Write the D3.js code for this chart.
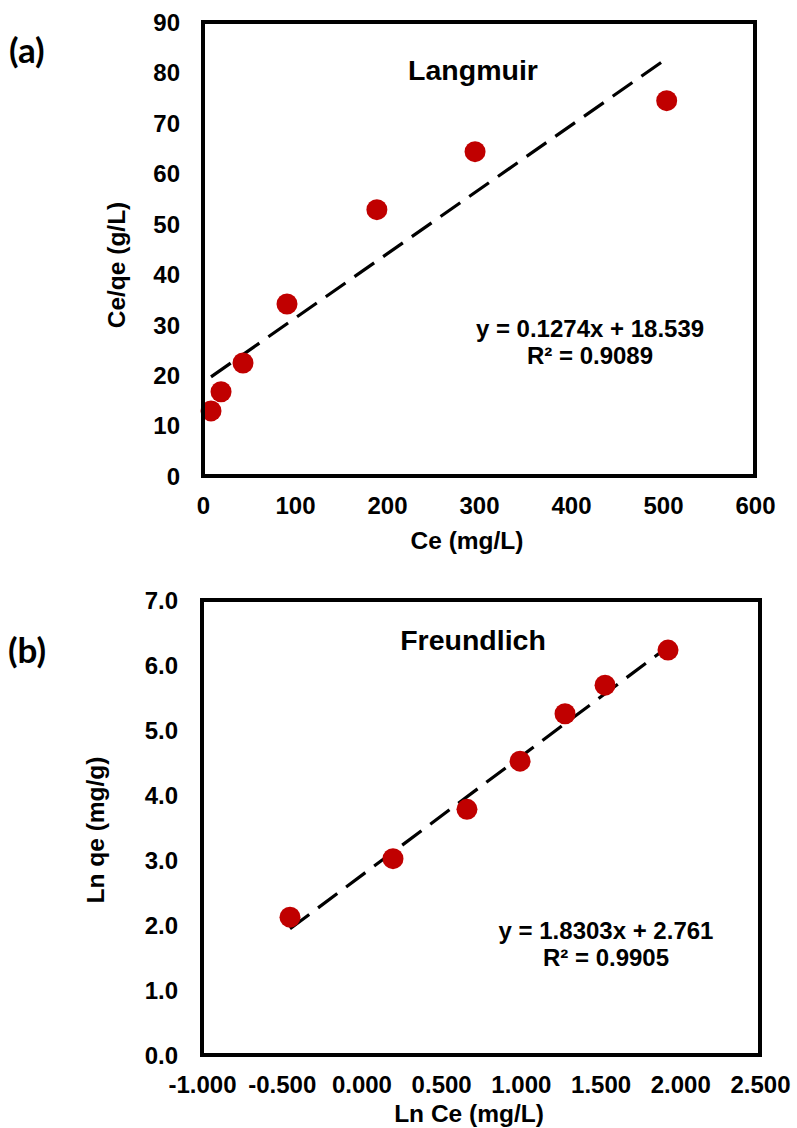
<!DOCTYPE html>
<head>
    <meta charset="utf-8" />
    <title>Isotherms</title>
    <script src="https://d3js.org/d3.v7.min.js"></script>
    <style>
        body { margin: 0; background: #fff; }
        svg text { font-family: "Liberation Sans", Arial, sans-serif; font-weight: bold; fill: #000; }
        svg text.tag { font-family: Lato, "Open Sans", sans-serif; }
    </style>
</head>
<body>
<svg width="797" height="1128"></svg>

<script>
    // (a) Langmuir
    let langX = [8.7, 19.6, 43.5, 91.3, 189, 295.7, 504];
    let langY = [12.9, 16.7, 22.4, 34.1, 52.8, 64.3, 74.4];
    let langXTicks = [0, 100, 200, 300, 400, 500, 600];
    let langYTicks = [0, 10, 20, 30, 40, 50, 60, 70, 80, 90];
    let langFit = [0.1274, 18.539];

    // (b) Freundlich
    let freuX = [-0.448, 0.198, 0.662, 0.995, 1.277, 1.528, 1.923];
    let freuY = [2.12, 3.02, 3.78, 4.52, 5.25, 5.69, 6.23];
    let freuXTicks = [-1, -0.5, 0, 0.5, 1, 1.5, 2, 2.5];
    let freuYTicks = [0, 1, 2, 3, 4, 5, 6, 7];
    let freuFit = [1.8303, 2.761];

    let svg = d3.select("svg");
    let tickFont = "24px";
    // excel writes a plain hyphen for negatives
    let fmt = d3.formatLocale({decimal: ".", thousands: ",", grouping: [3], currency: ["", ""], minus: "-"});

    function drawPanel(o) {
        let g = svg.append("g");
        let x = d3.scaleLinear().domain(o.xDomain).range([o.left, o.right]);
        let y = d3.scaleLinear().domain(o.yDomain).range([o.bottom, o.top]);

        let yAxis = g.append("g")
            .attr("transform", "translate(" + o.left + ",0)")
            .call(d3.axisLeft(y).tickValues(o.yTicks).tickSize(0).tickPadding(o.yPad).tickFormat(o.yFmt));
        yAxis.select(".domain").remove();
        yAxis.selectAll("text").style("font-size", tickFont).attr("dy", "0.35em");

        let xAxis = g.append("g")
            .attr("transform", "translate(0," + o.bottom + ")")
            .call(d3.axisBottom(x).tickValues(o.xTicks).tickSize(0).tickPadding(0).tickFormat(o.xFmt));
        xAxis.select(".domain").remove();
        // baseline 38px under the frame
        xAxis.selectAll("text").style("font-size", tickFont).attr("y", 38).attr("dy", null);

        // trend line from first to last point
        let x0 = d3.min(o.xs), x1 = d3.max(o.xs);
        g.append("line")
            .attr("x1", x(x0)).attr("y1", y(o.fit[0] * x0 + o.fit[1]))
            .attr("x2", x(x1)).attr("y2", y(o.fit[0] * x1 + o.fit[1]))
            .attr("stroke", "#000").attr("stroke-width", 3.2)
            .attr("stroke-dasharray", "24,11");

        g.selectAll("circle").data(o.xs).enter().append("circle")
            .attr("cx", d => x(d))
            .attr("cy", (d, i) => y(o.ys[i]))
            .attr("r", 10.5)
            .attr("fill", "#C00000");

        // plot frame
        g.append("rect")
            .attr("x", o.left).attr("y", o.top)
            .attr("width", o.right - o.left).attr("height", o.bottom - o.top)
            .attr("fill", "none").attr("stroke", "#000").attr("stroke-width", 4);

        g.append("text").attr("x", 473).attr("y", o.titleY)
            .attr("text-anchor", "middle").style("font-size", "28.5px").text(o.title);

        g.append("text").attr("x", o.eqX).attr("y", o.eqY)
            .attr("text-anchor", "middle").style("font-size", "24px").text(o.eq);
        g.append("text").attr("x", o.eqX).attr("y", o.eqY + 27)
            .attr("text-anchor", "middle").style("font-size", "24px").text(o.r2);

        g.append("text").attr("x", (o.left + o.right) / 2 - 12).attr("y", o.xLabelY)
            .attr("text-anchor", "middle").style("font-size", "24.5px").text(o.xLabel);

        g.append("text")
            .attr("transform", "translate(" + o.yLabelX + "," + o.yLabelY + ") rotate(-90)")
            .attr("text-anchor", "middle").style("font-size", "24.5px").text(o.yLabel);

        g.append("text").attr("class", "tag").attr("x", o.tagX).attr("y", o.tagY)
            .style("font-size", "35px").text(o.tag);
    }

    drawPanel({
        left: 203, right: 755, top: 22, bottom: 476,
        xDomain: [0, 600], yDomain: [0, 90],
        xTicks: langXTicks, yTicks: langYTicks,
        xFmt: fmt.format("d"), yFmt: fmt.format("d"),
        yPad: 23,
        xs: langX, ys: langY, fit: langFit,
        title: "Langmuir", titleY: 80,
        eq: "y = 0.1274x + 18.539", r2: "R² = 0.9089", eqX: 590, eqY: 337,
        xLabel: "Ce (mg/L)", xLabelY: 549,
        yLabel: "Ce/qe (g/L)", yLabelX: 125, yLabelY: 265,
        tag: "(a)", tagX: 9, tagY: 63
    });

    drawPanel({
        left: 202, right: 760, top: 600, bottom: 1055,
        xDomain: [-1, 2.5], yDomain: [0, 7],
        xTicks: freuXTicks, yTicks: freuYTicks,
        xFmt: fmt.format(".3f"), yFmt: fmt.format(".1f"),
        yPad: 24,
        xs: freuX, ys: freuY, fit: freuFit,
        title: "Freundlich", titleY: 650,
        eq: "y = 1.8303x + 2.761", r2: "R² = 0.9905", eqX: 606, eqY: 939,
        xLabel: "Ln Ce (mg/L)", xLabelY: 1122,
        yLabel: "Ln qe (mg/g)", yLabelX: 104, yLabelY: 830,
        tag: "(b)", tagX: 8, tagY: 663
    });
</script>
</body>
